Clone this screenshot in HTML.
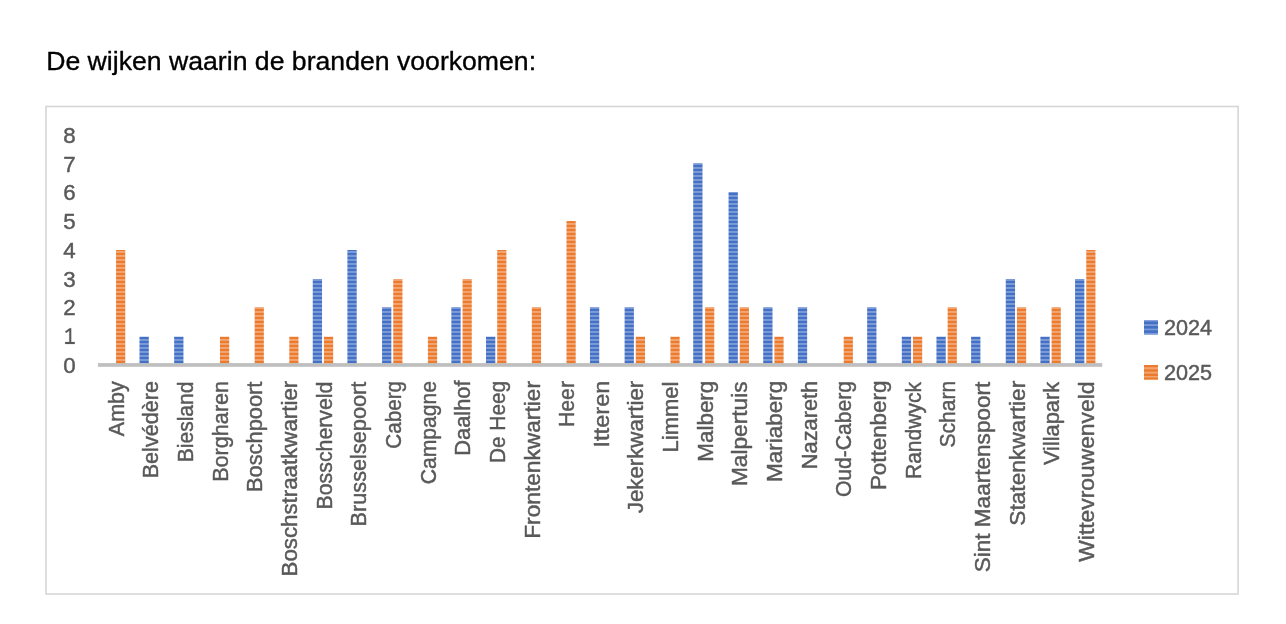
<!DOCTYPE html>
<html><head><meta charset="utf-8"><title>De wijken waarin de branden voorkomen</title>
<style>
html,body{margin:0;padding:0;background:#fff;}
body{width:1286px;height:624px;overflow:hidden;font-family:"Liberation Sans",sans-serif;}
svg{display:block;position:absolute;left:0;top:0;will-change:transform;}
text{font-family:"Liberation Sans",sans-serif;}
.c text{fill:#595959;stroke:#595959;stroke-width:0.45px;stroke-linejoin:round;}
</style></head><body>
<svg width="1286" height="624" viewBox="0 0 1286 624">
<defs>
<pattern id="pb" patternUnits="userSpaceOnUse" x="0" y="0.95" width="20" height="4">
<rect x="0" y="0" width="20" height="4" fill="#7c9ad7"/>
<rect x="0" y="0" width="20" height="2" fill="#4270c5"/>
</pattern>
<pattern id="po" patternUnits="userSpaceOnUse" x="0" y="0.95" width="20" height="4">
<rect x="0" y="0" width="20" height="4" fill="#f0a572"/>
<rect x="0" y="0" width="20" height="2" fill="#ed7a2c"/>
</pattern>
</defs>
<rect x="0" y="0" width="1286" height="624" fill="#ffffff"/>
<text x="46.2" y="69.9" font-size="26.63" fill="#000000" stroke="#000000" stroke-width="0.35" stroke-linejoin="round">De wijken waarin de branden voorkomen:</text>
<rect x="46" y="106.5" width="1192.1" height="487.5" fill="#ffffff" stroke="#d6d6d6" stroke-width="1.6"/>
<g class="c">
<text x="63.3" y="372.80" font-size="22.4" fill="#595959" textLength="12.4" lengthAdjust="spacingAndGlyphs">0</text>
<path transform="translate(65.15 343.96)" d="M6.05,-15.7 L6.05,-1.95 L9.6,-1.95 L9.6,0 L0,0 L0,-1.95 L4.15,-1.95 L4.15,-13.1 L0.85,-11 L0,-12.5 L4.5,-15.7 Z" fill="#595959" stroke="#595959" stroke-width="0.2" stroke-linejoin="round"/>
<text x="63.3" y="315.32" font-size="22.4" fill="#595959" textLength="12.4" lengthAdjust="spacingAndGlyphs">2</text>
<text x="63.3" y="286.58" font-size="22.4" fill="#595959" textLength="12.4" lengthAdjust="spacingAndGlyphs">3</text>
<text x="63.3" y="257.84" font-size="22.4" fill="#595959" textLength="12.4" lengthAdjust="spacingAndGlyphs">4</text>
<text x="63.3" y="229.10" font-size="22.4" fill="#595959" textLength="12.4" lengthAdjust="spacingAndGlyphs">5</text>
<text x="63.3" y="200.36" font-size="22.4" fill="#595959" textLength="12.4" lengthAdjust="spacingAndGlyphs">6</text>
<text x="63.3" y="171.62" font-size="22.4" fill="#595959" textLength="12.4" lengthAdjust="spacingAndGlyphs">7</text>
<text x="63.3" y="142.88" font-size="22.4" fill="#595959" textLength="12.4" lengthAdjust="spacingAndGlyphs">8</text>
</g>
<g>
<rect x="116.05" y="250.00" width="9.2" height="115.65" fill="url(#po)"/>
<rect x="139.50" y="336.70" width="9.3" height="28.95" fill="url(#pb)"/>
<rect x="174.15" y="336.70" width="9.3" height="28.95" fill="url(#pb)"/>
<rect x="220.00" y="336.70" width="9.2" height="28.95" fill="url(#po)"/>
<rect x="254.65" y="307.15" width="9.2" height="58.50" fill="url(#po)"/>
<rect x="289.30" y="336.70" width="9.2" height="28.95" fill="url(#po)"/>
<rect x="312.75" y="279.00" width="9.3" height="86.65" fill="url(#pb)"/>
<rect x="323.95" y="336.70" width="9.2" height="28.95" fill="url(#po)"/>
<rect x="347.40" y="250.00" width="9.3" height="115.65" fill="url(#pb)"/>
<rect x="382.05" y="307.15" width="9.3" height="58.50" fill="url(#pb)"/>
<rect x="393.25" y="279.00" width="9.2" height="86.65" fill="url(#po)"/>
<rect x="427.90" y="336.70" width="9.2" height="28.95" fill="url(#po)"/>
<rect x="451.35" y="307.15" width="9.3" height="58.50" fill="url(#pb)"/>
<rect x="462.55" y="279.00" width="9.2" height="86.65" fill="url(#po)"/>
<rect x="486.00" y="336.70" width="9.3" height="28.95" fill="url(#pb)"/>
<rect x="497.20" y="250.00" width="9.2" height="115.65" fill="url(#po)"/>
<rect x="531.85" y="307.15" width="9.2" height="58.50" fill="url(#po)"/>
<rect x="566.50" y="221.05" width="9.2" height="144.60" fill="url(#po)"/>
<rect x="589.95" y="307.15" width="9.3" height="58.50" fill="url(#pb)"/>
<rect x="624.60" y="307.15" width="9.3" height="58.50" fill="url(#pb)"/>
<rect x="635.80" y="336.70" width="9.2" height="28.95" fill="url(#po)"/>
<rect x="670.45" y="336.70" width="9.2" height="28.95" fill="url(#po)"/>
<rect x="693.20" y="163.13" width="9.3" height="202.52" fill="url(#pb)"/>
<rect x="705.10" y="307.15" width="9.2" height="58.50" fill="url(#po)"/>
<rect x="728.55" y="192.05" width="9.3" height="173.60" fill="url(#pb)"/>
<rect x="739.75" y="307.15" width="9.2" height="58.50" fill="url(#po)"/>
<rect x="763.20" y="307.15" width="9.3" height="58.50" fill="url(#pb)"/>
<rect x="774.40" y="336.70" width="9.2" height="28.95" fill="url(#po)"/>
<rect x="797.85" y="307.15" width="9.3" height="58.50" fill="url(#pb)"/>
<rect x="843.70" y="336.70" width="9.2" height="28.95" fill="url(#po)"/>
<rect x="867.15" y="307.15" width="9.3" height="58.50" fill="url(#pb)"/>
<rect x="901.80" y="336.70" width="9.3" height="28.95" fill="url(#pb)"/>
<rect x="913.00" y="336.70" width="9.2" height="28.95" fill="url(#po)"/>
<rect x="936.45" y="336.70" width="9.3" height="28.95" fill="url(#pb)"/>
<rect x="947.65" y="307.15" width="9.2" height="58.50" fill="url(#po)"/>
<rect x="971.10" y="336.70" width="9.3" height="28.95" fill="url(#pb)"/>
<rect x="1005.75" y="279.00" width="9.3" height="86.65" fill="url(#pb)"/>
<rect x="1016.95" y="307.15" width="9.2" height="58.50" fill="url(#po)"/>
<rect x="1040.40" y="336.70" width="9.3" height="28.95" fill="url(#pb)"/>
<rect x="1051.60" y="307.15" width="9.2" height="58.50" fill="url(#po)"/>
<rect x="1075.05" y="279.00" width="9.3" height="86.65" fill="url(#pb)"/>
<rect x="1086.25" y="250.00" width="9.2" height="115.65" fill="url(#po)"/>
</g>
<rect x="97.9" y="363.1" width="1004.30" height="3.70" fill="#bfbfbf"/>
<g class="c">
<text transform="translate(123.58 436.20) rotate(-90)" font-size="21.5" fill="#595959" textLength="54.95" lengthAdjust="spacingAndGlyphs">Amby</text>
<text transform="translate(158.24 478.30) rotate(-90)" font-size="21.5" fill="#595959" textLength="97.20" lengthAdjust="spacingAndGlyphs">Belvédère</text>
<text transform="translate(192.90 462.20) rotate(-90)" font-size="21.5" fill="#595959" textLength="80.65" lengthAdjust="spacingAndGlyphs">Biesland</text>
<text transform="translate(227.56 481.85) rotate(-90)" font-size="21.5" fill="#595959" textLength="101.00" lengthAdjust="spacingAndGlyphs">Borgharen</text>
<text transform="translate(262.22 492.00) rotate(-90)" font-size="21.5" fill="#595959" textLength="110.35" lengthAdjust="spacingAndGlyphs">Boschpoort</text>
<text transform="translate(296.88 576.45) rotate(-90)" font-size="21.5" fill="#595959" textLength="195.65" lengthAdjust="spacingAndGlyphs">Boschstraatkwartier</text>
<text transform="translate(331.54 509.50) rotate(-90)" font-size="21.5" fill="#595959" textLength="127.95" lengthAdjust="spacingAndGlyphs">Bosscherveld</text>
<text transform="translate(366.20 526.45) rotate(-90)" font-size="21.5" fill="#595959" textLength="144.80" lengthAdjust="spacingAndGlyphs">Brusselsepoort</text>
<text transform="translate(400.86 448.75) rotate(-90)" font-size="21.5" fill="#595959" textLength="67.85" lengthAdjust="spacingAndGlyphs">Caberg</text>
<text transform="translate(435.52 484.35) rotate(-90)" font-size="21.5" fill="#595959" textLength="103.25" lengthAdjust="spacingAndGlyphs">Campagne</text>
<text transform="translate(470.18 455.65) rotate(-90)" font-size="21.5" fill="#595959" textLength="75.15" lengthAdjust="spacingAndGlyphs">Daalhof</text>
<text transform="translate(504.84 463.00) rotate(-90)" font-size="21.5" fill="#595959" textLength="82.10" lengthAdjust="spacingAndGlyphs">De Heeg</text>
<text transform="translate(539.50 538.80) rotate(-90)" font-size="21.5" fill="#595959" textLength="157.75" lengthAdjust="spacingAndGlyphs">Frontenkwartier</text>
<text transform="translate(574.16 427.00) rotate(-90)" font-size="21.5" fill="#595959" textLength="45.95" lengthAdjust="spacingAndGlyphs">Heer</text>
<text transform="translate(608.82 447.55) rotate(-90)" font-size="21.5" fill="#595959" textLength="66.95" lengthAdjust="spacingAndGlyphs">Itteren</text>
<text transform="translate(643.48 513.25) rotate(-90)" font-size="21.5" fill="#595959" textLength="132.45" lengthAdjust="spacingAndGlyphs">Jekerkwartier</text>
<text transform="translate(678.14 452.45) rotate(-90)" font-size="21.5" fill="#595959" textLength="70.90" lengthAdjust="spacingAndGlyphs">Limmel</text>
<text transform="translate(712.80 461.80) rotate(-90)" font-size="21.5" fill="#595959" textLength="81.15" lengthAdjust="spacingAndGlyphs">Malberg</text>
<text transform="translate(747.46 486.10) rotate(-90)" font-size="21.5" fill="#595959" textLength="104.65" lengthAdjust="spacingAndGlyphs">Malpertuis</text>
<text transform="translate(782.12 482.10) rotate(-90)" font-size="21.5" fill="#595959" textLength="101.45" lengthAdjust="spacingAndGlyphs">Mariaberg</text>
<text transform="translate(816.78 469.15) rotate(-90)" font-size="21.5" fill="#595959" textLength="88.30" lengthAdjust="spacingAndGlyphs">Nazareth</text>
<text transform="translate(851.44 497.05) rotate(-90)" font-size="21.5" fill="#595959" textLength="116.15" lengthAdjust="spacingAndGlyphs">Oud-Caberg</text>
<text transform="translate(886.10 490.10) rotate(-90)" font-size="21.5" fill="#595959" textLength="109.45" lengthAdjust="spacingAndGlyphs">Pottenberg</text>
<text transform="translate(920.76 479.05) rotate(-90)" font-size="21.5" fill="#595959" textLength="97.15" lengthAdjust="spacingAndGlyphs">Randwyck</text>
<text transform="translate(955.42 447.55) rotate(-90)" font-size="21.5" fill="#595959" textLength="66.70" lengthAdjust="spacingAndGlyphs">Scharn</text>
<text transform="translate(990.08 572.35) rotate(-90)" font-size="21.5" fill="#595959" textLength="190.70" lengthAdjust="spacingAndGlyphs">Sint Maartenspoort</text>
<text transform="translate(1024.74 525.70) rotate(-90)" font-size="21.5" fill="#595959" textLength="144.90" lengthAdjust="spacingAndGlyphs">Statenkwartier</text>
<text transform="translate(1059.40 465.05) rotate(-90)" font-size="21.5" fill="#595959" textLength="83.15" lengthAdjust="spacingAndGlyphs">Villapark</text>
<text transform="translate(1094.06 561.70) rotate(-90)" font-size="21.5" fill="#595959" textLength="180.15" lengthAdjust="spacingAndGlyphs">Wittevrouwenveld</text>
</g>
<g class="c">
<rect x="1144" y="320.1" width="13.95" height="14.7" fill="#7c9ad7"/>
<rect x="1144" y="321.50" width="13.95" height="2.6" fill="#4270c5"/>
<rect x="1144" y="326.00" width="13.95" height="2.6" fill="#4270c5"/>
<rect x="1144" y="330.30" width="13.95" height="2.6" fill="#4270c5"/>
<text x="1164.0" y="334.7" font-size="22.4" fill="#595959" textLength="48.1" lengthAdjust="spacingAndGlyphs">2024</text>
<rect x="1144" y="365.05" width="13.95" height="14.5" fill="#f0a572"/>
<rect x="1144" y="365.05" width="13.95" height="2.15" fill="#ed7a2c"/>
<rect x="1144" y="369.30" width="13.95" height="2.40" fill="#ed7a2c"/>
<rect x="1144" y="373.60" width="13.95" height="2.40" fill="#ed7a2c"/>
<rect x="1144" y="377.50" width="13.95" height="2.05" fill="#ed7a2c"/>
<text x="1164.0" y="379.7" font-size="22.4" fill="#595959" textLength="48.1" lengthAdjust="spacingAndGlyphs">2025</text>
</g>
</svg>
</body></html>
